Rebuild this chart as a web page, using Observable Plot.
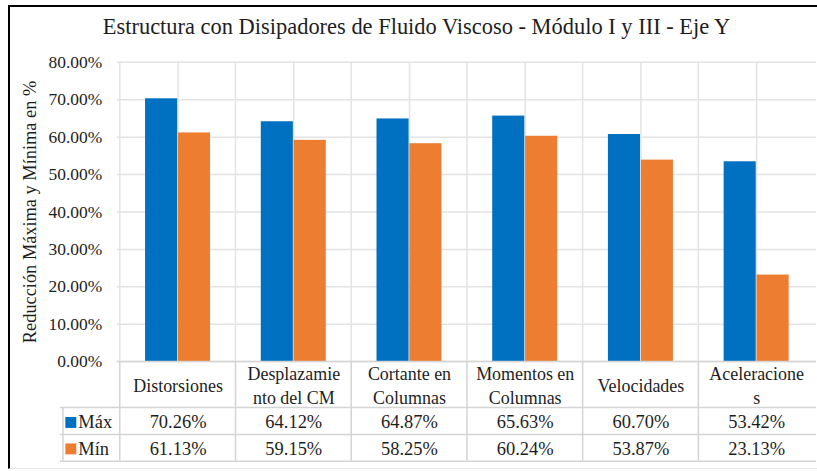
<!DOCTYPE html>
<html><head><meta charset="utf-8">
<script src="https://cdn.jsdelivr.net/npm/d3@7"></script>
<script src="https://cdn.jsdelivr.net/npm/@observablehq/plot@0.6"></script>
<style>
html,body{margin:0;padding:0;background:#fff;overflow:hidden;}
#wrap{position:relative;width:817px;height:471px;overflow:hidden;}
#chart{position:absolute;left:0;top:0;}
#frame{position:absolute;left:8px;top:5px;width:900px;height:461px;border-left:2px solid #000;border-top:2px solid #000;border-bottom:1px solid #e4e4e4;}
</style></head>
<body><div id="wrap"><div id="chart"></div><div id="frame"></div></div>
<script>
const title = "Estructura con Disipadores de Fluido Viscoso - Módulo I y III - Eje Y";
const yLabel = "Reducción Máxima y Mínima en %";
const categories = ["Distorsiones","Desplazamiento del CM","Cortante en Columnas","Momentos en Columnas","Velocidades","Aceleraciones"];
const labels = ["Distorsiones","Desplazamie\nnto del CM","Cortante en\nColumnas","Momentos en\nColumnas","Velocidades","Aceleracione\ns"];
const maxValues = [0.7026, 0.6412, 0.6487, 0.6563, 0.6070, 0.5342];
const minValues = [0.6113, 0.5915, 0.5825, 0.6024, 0.5387, 0.2313];
const series = ["Máx","Mín"];
const colors = ["#0070C0","#ED7D31"];
const yTicks = [0,0.1,0.2,0.3,0.4,0.5,0.6,0.7,0.8];

const W=819, H=471, ML=117, MR=1, MT=62, MB=109;
const bw=(W-ML-MR)/categories.length;
const barW=33;
const outer=bw/2-barW;
const gridC="#e3e3e3", tblC="#d4d4d4", txt="#1e1e1e";
const FF="'Liberation Serif', 'Times New Roman', serif";
const rows = categories.map((c,i)=>({cat:c,label:labels[i],max:maxValues[i],min:minValues[i]}));
const fmt = d3.format(".2%");
const rowDy=[61,87.5];
const valKeys=["max","min"];

const chart = Plot.plot({
  width:W,height:H,marginLeft:ML,marginRight:MR,marginTop:MT,marginBottom:MB,
  style:{fontFamily:FF, fontSize:"18px", color:txt, background:"transparent", overflow:"visible"},
  x:{domain:categories, padding:0, axis:null},
  y:{domain:[0,0.8], axis:null},
  marks:[
    Plot.gridY(yTicks,{stroke:gridC, strokeOpacity:1, strokeWidth:1.5}),
    Plot.ruleX(categories,{stroke:gridC, strokeWidth:1.5}),
    Plot.ruleX(categories,{dx:-bw/2, stroke:gridC, strokeWidth:1.5}),
    Plot.barY(rows,{x:"cat",y:"max",fill:colors[0],insetLeft:outer,insetRight:bw/2}),
    Plot.barY(rows,{x:"cat",y:"min",fill:colors[1],insetLeft:bw/2,insetRight:outer}),
    Plot.axisY(yTicks,{tickFormat:".2%", tickSize:0, tickPadding:15, fontSize:17.5, fontFamily:FF, label:null, fill:txt}),
    // table lines
    Plot.ruleY([0],{stroke:tblC, strokeWidth:1.5}),
    Plot.ruleY([0],{dy:46, insetLeft:-57, stroke:tblC, strokeWidth:1.5}),
    Plot.ruleY([0],{dy:73, insetLeft:-57, stroke:tblC, strokeWidth:1.5}),
    Plot.ruleY([0],{dy:100, insetLeft:-57, stroke:tblC, strokeWidth:1.5}),
    Plot.ruleX(categories,{dx:-bw/2, insetTop:300, insetBottom:-100, stroke:tblC, strokeWidth:1.5}),
    Plot.ruleX(categories.slice(0,1),{dx:-bw/2-57, insetTop:346, insetBottom:-100, stroke:tblC, strokeWidth:1.5}),
    // table text
    Plot.text(rows,{x:"cat",text:"label",frameAnchor:"bottom",dy:23,lineAnchor:"middle",lineHeight:1.35,fontSize:18,fontFamily:FF,fill:txt}),
    ...series.flatMap((s,i)=>[
      Plot.text(rows,{x:"cat",text:d=>fmt(d[valKeys[i]]),frameAnchor:"bottom",dy:rowDy[i],lineAnchor:"middle",fontSize:18.5,fontFamily:FF,fill:txt}),
      Plot.dot([s],{frameAnchor:"bottom-left",dx:-46.5,dy:rowDy[i],symbol:"square",r:6.2,fill:colors[i],stroke:"none"}),
      Plot.text([s],{text:d=>d,frameAnchor:"bottom-left",dx:-39,dy:rowDy[i],textAnchor:"start",lineAnchor:"middle",fontSize:18.5,fontFamily:FF,fill:txt})
    ]),
    // y label
    Plot.text([yLabel],{text:d=>d,frameAnchor:"left",dx:-87,rotate:-90,textAnchor:"middle",lineAnchor:"middle",fontSize:18.4,fontFamily:FF,fill:txt}),
    // title
    Plot.text([title],{text:d=>d,frameAnchor:"top-left",dx:300,dy:-36,textAnchor:"middle",lineAnchor:"middle",fontSize:22.5,fontFamily:FF,fill:txt})
  ]
});
document.getElementById("chart").appendChild(chart);
</script>
</body></html>
